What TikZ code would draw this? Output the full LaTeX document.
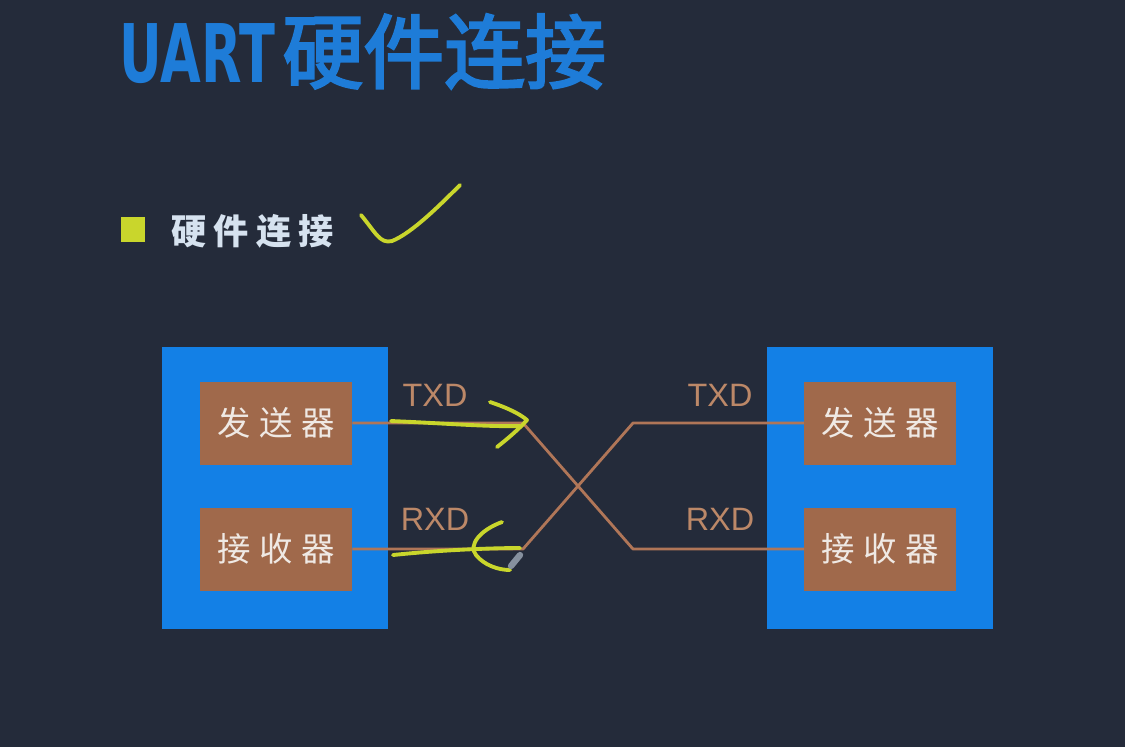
\documentclass[tikz,border=0pt]{standalone}
\usepackage{fontspec}
\setmainfont{Liberation Sans}
\newfontfamily\cjk{Noto Sans CJK SC}
\newfontfamily\cjkhead[FakeBold=3]{Noto Sans CJK SC}
\newfontfamily\heavy{DejaVu Sans}
\usetikzlibrary{arrows.meta}
\definecolor{slate}{HTML}{242B3A}
\definecolor{azure}{HTML}{1380E6}
\definecolor{titleblue}{HTML}{1E7CD8}
\definecolor{clay}{HTML}{A0694B}
\definecolor{copper}{HTML}{B07658}
\definecolor{tan}{HTML}{BC8868}
\definecolor{lime}{HTML}{C9D62C}
\definecolor{chalk}{HTML}{D6E2EF}
\definecolor{ivory}{HTML}{EFE9E4}

\begin{document}
\begin{tikzpicture}[x=0.01cm,y=-0.01cm,
  board/.style={fill=azure,draw=none,minimum width=2.26cm,minimum height=2.81cm,inner sep=0pt},
  unit/.style={fill=clay,draw=none,minimum width=1.51cm,minimum height=0.83cm,inner sep=0pt,
    text=ivory,font=\cjk\fontsize{9.5}{9.5}\selectfont},
  pin/.style={text=tan,font=\fontsize{9.2}{9.2}\selectfont,inner sep=0pt},
  wire/.style={draw=copper,line width=0.8pt,line join=round},
  ink/.style={draw=lime,line width=1.1pt,line cap=round,line join=round}]
  \fill[slate] (0,0) rectangle (1125,747);
  % heading and bullet
  \node[anchor=base west,text=titleblue,inner sep=0pt,font=\fontsize{23}{23}\selectfont]
       (title) at (119,82) {\scalebox{0.65}[1]{\heavy\bfseries UART}\hspace{2pt}\cjkhead 硬件连接};
  \fill[lime] (121,217) rectangle (145,242) coordinate (bullet);
  \node[anchor=west,text=chalk,inner sep=0pt,font=\cjk\fontsize{10}{10}\selectfont\bfseries]
       (topic) at (171,231) {硬\hspace{0.2em}件\hspace{0.2em}连\hspace{0.2em}接};
  % the two devices
  \node[board] (left)  at (275,488) {};
  \node[board] (right) at (880,488) {};
  \node[unit] (ltx) at (276,423) {发\hspace{0.25em}送\hspace{0.25em}器};
  \node[unit] (lrx) at (276,549) {接\hspace{0.25em}收\hspace{0.25em}器};
  \node[unit] (rtx) at (880,423) {发\hspace{0.25em}送\hspace{0.25em}器};
  \node[unit] (rrx) at (880,549) {接\hspace{0.25em}收\hspace{0.25em}器};
  % kinks of the crossed pair
  \coordinate (la) at (523,423);
  \coordinate (lb) at (523,549);
  \coordinate (ra) at (633,423);
  \coordinate (rb) at (633,549);
  \draw[wire] (ltx.east) -- (la) -- (rb) -- (rrx.west);
  \draw[wire] (lrx.east) -- (lb) -- (ra) -- (rtx.west);
  \node[pin] (ltxd) at (435,395) {TXD};
  \node[pin] (lrxd) at (435,519) {RXD};
  \node[pin] (rtxd) at (720,395) {TXD};
  \node[pin] (rrxd) at (720,519) {RXD};
  % hand marks
  \draw[ink] (361,215) .. controls (376,233) and (380,244) .. (392,241)
             .. controls (412,233) and (440,205) .. (460,185);
  \draw[ink] (391,421) .. controls (440,423) and (490,427) .. (520,426);
  \draw[ink] (490,402) .. controls (508,408) and (520,414) .. (527,420)
             .. controls (518,430) and (506,440) .. (497,447);
  \draw[ink] (393,555) .. controls (440,550) and (490,548) .. (520,548);
  \draw[ink] (502,522) .. controls (480,530) and (468,545) .. (476,555)
             .. controls (484,565) and (498,570) .. (510,570);
  \draw[draw=chalk!55!slate,line width=1.8pt,line cap=round] (511,566) -- (520,555);
\end{tikzpicture}
\end{document}
